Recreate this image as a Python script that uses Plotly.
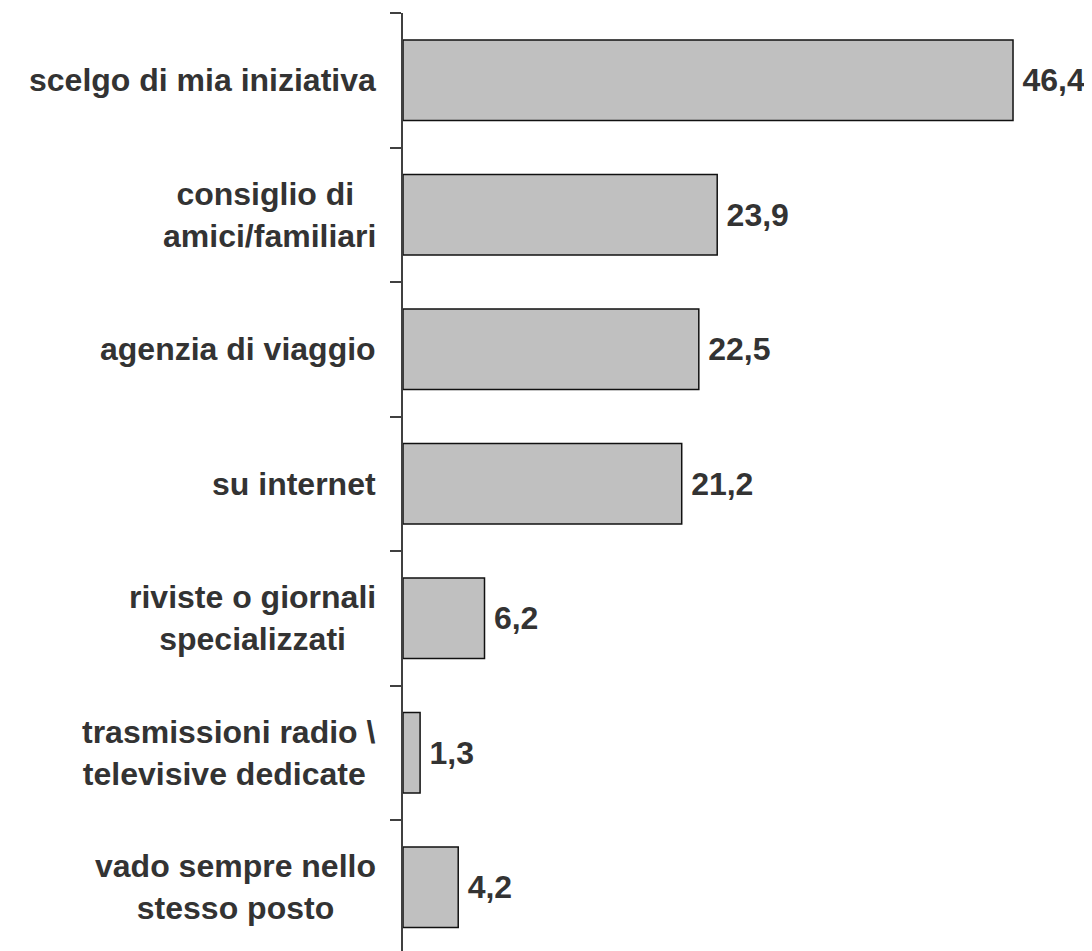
import plotly.graph_objects as go

categories = [
    "scelgo di mia iniziativa",
    "consiglio di <br>amici/familiari",
    "agenzia di viaggio",
    "su internet",
    "riviste o giornali<br>specializzati",
    "trasmissioni radio \\<br>televisive dedicate ",
    "vado sempre nello<br>stesso posto",
]
values = [46.4, 23.9, 22.5, 21.2, 6.2, 1.3, 4.2]
value_labels = [f"{v:.1f}".replace(".", ",") for v in values]

FONT = "Liberation Sans, Arial, sans-serif"
TXT = "#333333"
FS = 32

W, H = 1084, 943
ML, MT = 395, 5
plot_w = W - ML
PX_PER_UNIT = 13.147

fig = go.Figure()
fig.add_trace(go.Bar(
    x=values,
    y=categories,
    orientation="h",
    width=0.6,
    marker=dict(color="#c0c0c0", line=dict(color="#111111", width=1.5)),
    text=value_labels,
    texttemplate="<b>\u2009%{text}</b>",
    textposition="outside",
    textfont=dict(family=FONT, size=FS, color=TXT),
    cliponaxis=False,
))

for c in categories:
    fig.add_annotation(
        x=(370 - ML) / plot_w, xref="paper", y=c, yref="y",
        text="<b>" + c.replace(" <br>", "&nbsp;<br>").replace("dedicate ", "dedicate&nbsp;") + "</b>",
        xanchor="right", yanchor="middle", align="center", showarrow=False,
        font=dict(family=FONT, size=FS, color=TXT),
    )

fig.update_layout(
    width=W, height=H,
    margin=dict(l=ML, r=0, t=MT, b=0),
    plot_bgcolor="white", paper_bgcolor="white",
    showlegend=False,
    uniformtext=dict(mode=False),
    font=dict(family=FONT, color=TXT),
)
fig.update_xaxes(range=[0, plot_w / PX_PER_UNIT], visible=False, fixedrange=True)
fig.update_yaxes(
    type="category",
    range=[(H - MT) / 134.5 - 0.5, -0.5],
    showticklabels=False,
    tickson="boundaries",
    ticks="outside", ticklen=11, tickwidth=1.5, tickcolor="#404040",
    showline=True, linecolor="#404040", linewidth=2,
    showgrid=False, zeroline=False,
)

fig.write_html("out.html")
